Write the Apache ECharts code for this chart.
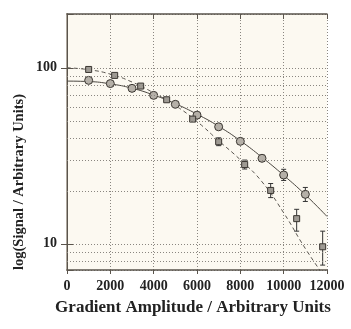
<!DOCTYPE html>
<html>
<head>
<meta charset="utf-8">
<script src="https://cdn.jsdelivr.net/npm/echarts@6/dist/echarts.min.js"></script>
<style>
  html, body { margin: 0; padding: 0; background: #fff; }
  #chart { width: 351px; height: 329px; }
</style>
</head>
<body>
<div id="chart"></div>
<script>
// x tick labels and y tick labels
const xTicks = [0, 2000, 4000, 6000, 8000, 10000, 12000]
const yTickLabels = [10, 100]
// dotted minor grid lines on the log axis
const minorGridValues = [8, 9, 20, 30, 40, 50, 60, 70, 80, 90]

// circles (solid fit)
const circleX = [1000, 2000, 3000, 4000, 5000, 6000, 7000, 8000, 9000, 10000, 11000]
const circleY = [84.8, 81.3, 76.4, 69.7, 62.0, 53.8, 46.2, 38.2, 30.6, 24.6, 19.1]
const circleLow = [84, 80.5, 75.6, 69, 61.2, 53, 45.2, 37, 29.5, 22.9, 17.4]
const circleHigh = [85.6, 82.1, 77.2, 70.4, 62.8, 54.6, 47.2, 39.4, 31.9, 26.5, 20.9]

// squares (dashed fit)
const squareX = [1000, 2200, 3400, 4600, 5800, 7000, 8200, 9400, 10600, 11800]
const squareY = [97.8, 90.5, 78.7, 65.8, 51.1, 38.0, 28.2, 20.1, 13.9, 9.62]
const squareLow = [96.8, 89.5, 77.8, 64.8, 49.8, 36.1, 26.6, 18.3, 11.8, 7.57]
const squareHigh = [98.8, 91.5, 79.6, 66.8, 52.4, 40.0, 29.9, 22.0, 15.7, 11.8]

// fitted curves
const fitX = [0, 1000, 2000, 3000, 4000, 5000, 6000, 7000, 8000, 9000, 10000, 11000, 12000]
const fitSolid = [84, 83.5, 81, 76.5, 70, 62.5, 54.5, 46.5, 38.5, 31, 24.5, 19, 14.3]
const fitDashed = [100, 97.5, 92, 83, 72, 61, 49.5, 38.5, 30, 22.5, 15, 9.4, 6.2]

const serif = '"Liberation Serif", "DejaVu Serif", serif'
const gridColor = '#8a8680'

function zip(a, b) {
  return a.map((v, i) => [v, b[i]])
}

function errorBars(xs, lows, highs) {
  return {
    type: 'custom',
    z: 3,
    silent: true,
    data: xs.map((x, i) => [x, lows[i], highs[i]]),
    renderItem: function (params, api) {
      let top = api.coord([api.value(0), api.value(2)])
      let bot = api.coord([api.value(0), api.value(1)])
      let cap = 2.5
      let st = { stroke: '#333', lineWidth: 1 }
      return {
        type: 'group',
        children: [
          { type: 'line', shape: { x1: top[0], y1: top[1], x2: bot[0], y2: bot[1] }, style: st },
          { type: 'line', shape: { x1: top[0] - cap, y1: top[1], x2: top[0] + cap, y2: top[1] }, style: st },
          { type: 'line', shape: { x1: bot[0] - cap, y1: bot[1], x2: bot[0] + cap, y2: bot[1] }, style: st }
        ]
      }
    }
  }
}

let mychart = echarts.init(document.getElementById('chart'), null, { renderer: 'canvas' })

let option = {
  animation: false,
  backgroundColor: '#fff',
  grid: {
    left: 67, right: 24, top: 14, bottom: 59,
    show: true, backgroundColor: '#fcf9f1', borderWidth: 0
  },
  graphic: [
    {
      type: 'text', x: 193, y: 308,
      style: {
        text: 'Gradient Amplitude / Arbitrary Units',
        font: 'bold 17px ' + serif, fill: '#222',
        align: 'center', verticalAlign: 'middle'
      }
    },
    {
      type: 'text', x: 19, y: 182, rotation: Math.PI / 2,
      style: {
        text: 'log(Signal / Arbitrary Units)',
        font: 'bold 14.5px ' + serif, fill: '#222',
        align: 'center', verticalAlign: 'middle'
      }
    }
  ],
  xAxis: [
    {
      type: 'value', min: 0, max: 12000, interval: 2000,
      axisLine: { lineStyle: { color: '#5a544c', width: 1.5 } },
      axisTick: { show: true, length: 4, lineStyle: { color: '#5a544c' } },
      axisLabel: {
        margin: 9, color: '#222', fontFamily: serif, fontWeight: 'bold', fontSize: 14,
        formatter: function (v) { return xTicks.indexOf(v) >= 0 ? String(v) : '' }
      },
      splitLine: { show: true, lineStyle: { color: gridColor, type: [1, 2], width: 1 } }
    },
    {
      type: 'value', position: 'top', min: 0, max: 12000, interval: 2000,
      axisLine: { show: true, lineStyle: { color: '#5a544c', width: 1.5 } },
      axisTick: { show: true, inside: true, length: 5, lineStyle: { color: '#5a544c' } },
      axisLabel: { show: false },
      splitLine: { show: false }
    }
  ],
  yAxis: [
    {
      type: 'log', logBase: 10, min: 7.1, max: 202,
      axisLine: { show: true, lineStyle: { color: '#aea79d', width: 2 } },
      axisTick: { show: true, length: 6, lineStyle: { color: '#5a544c' } },
      axisLabel: {
        margin: 10, color: '#222', fontFamily: serif, fontWeight: 'bold', fontSize: 14,
        showMinLabel: false, showMaxLabel: false,
        formatter: function (v) {
          let r = Math.round(v)
          return yTickLabels.indexOf(r) >= 0 && Math.abs(v - r) < 1e-6 ? String(r) : ''
        }
      },
      splitLine: { show: true, lineStyle: { color: gridColor, type: [1, 2], width: 1 } }
    },
    {
      type: 'log', logBase: 10, min: 7.1, max: 202, position: 'right',
      axisLine: { show: true, lineStyle: { color: '#5a544c', width: 1 } },
      axisTick: { show: true, length: 6, lineStyle: { color: '#5a544c' } },
      axisLabel: { show: false },
      splitLine: { show: false }
    }
  ],
  series: [
    {
      type: 'line',
      data: zip(fitX, fitSolid),
      smooth: true,
      showSymbol: false,
      silent: true,
      z: 2,
      lineStyle: { color: '#4a4640', width: 1, type: 'solid' },
      markLine: {
        silent: true,
        symbol: 'none',
        label: { show: false },
        lineStyle: { color: gridColor, type: [1, 2], width: 1 },
        data: minorGridValues.map(v => ({ yAxis: v }))
      }
    },
    {
      type: 'line',
      data: zip(fitX, fitDashed),
      smooth: true,
      showSymbol: false,
      silent: true,
      z: 2,
      lineStyle: { color: '#5a5650', width: 1, type: [4, 3] }
    },
    errorBars(circleX, circleLow, circleHigh),
    errorBars(squareX, squareLow, squareHigh),
    {
      type: 'scatter',
      z: 4,
      data: zip(circleX, circleY),
      symbol: 'circle',
      symbolSize: 8,
      itemStyle: { color: '#b5b0a8', borderColor: '#3a3631', borderWidth: 1, opacity: 1 }
    },
    {
      type: 'scatter',
      z: 4,
      data: zip(squareX, squareY),
      symbol: 'rect',
      symbolSize: 6,
      itemStyle: { color: '#9e9a93', borderColor: '#3a3631', borderWidth: 1, opacity: 1 }
    }
  ]
}

mychart.setOption(option)
</script>
</body>
</html>
